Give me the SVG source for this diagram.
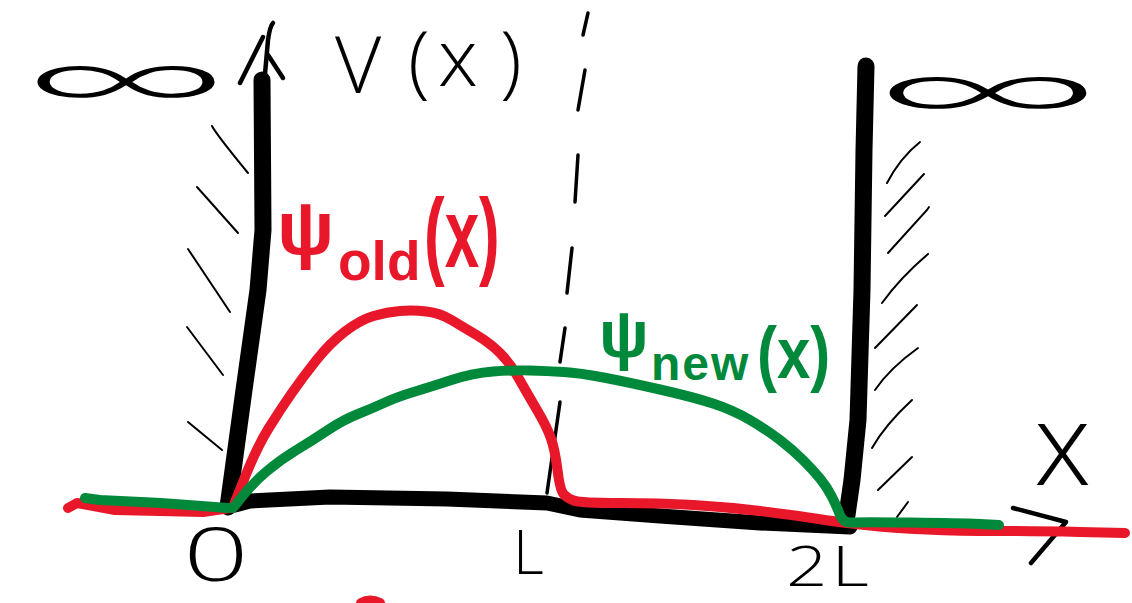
<svg xmlns="http://www.w3.org/2000/svg" width="1132" height="603" viewBox="0 0 1132 603">
<style>
.wall{fill:none;stroke:#000;stroke-width:17;stroke-linecap:round;stroke-linejoin:round}
.base{fill:none;stroke:#000;stroke-width:15;stroke-linecap:round;stroke-linejoin:round}
.hatch{fill:none;stroke:#000;stroke-width:2;stroke-linecap:round}
.dash{fill:none;stroke:#000;stroke-width:3.5;stroke-linecap:round}
.pen{fill:none;stroke:#000;stroke-width:4.5;stroke-linecap:round;stroke-linejoin:round}
.red{fill:none;stroke:#e8182a;stroke-width:10;stroke-linecap:round;stroke-linejoin:round}
.green{fill:none;stroke:#00893a;stroke-width:10;stroke-linecap:round;stroke-linejoin:round}
.lbl{font-family:"Open Sans","Liberation Sans",sans-serif;font-weight:300;fill:#000}
.rl{font-family:"Liberation Sans",Arial,sans-serif;font-weight:700;fill:#e8182a}
.gl{font-family:"Liberation Sans",Arial,sans-serif;font-weight:700;fill:#00893a}
.inf{font-family:"Open Sans","DejaVu Sans Mono",monospace;font-weight:300;fill:#000}
</style>
<rect width="1132" height="603" fill="#fff"/>

<g id="hatching">
<path class="hatch" d="M212,126 Q216,134 248,173"/>
<path class="hatch" d="M197,187 L238,233"/>
<path class="hatch" d="M188,249 L230,312"/>
<path class="hatch" d="M187,327 L223,375"/>
<path class="hatch" d="M188,422 L222,450"/>
<path class="hatch" d="M887,183 Q900,158 920,142"/>
<path class="hatch" d="M885,216 L924,174"/>
<path class="hatch" d="M888,253 L927,210 L929,207"/>
<path class="hatch" d="M882,303 Q900,278 928,254"/>
<path class="hatch" d="M875,348 L917,305"/>
<path class="hatch" d="M875,390 Q890,368 918,348"/>
<path class="hatch" d="M872,448 Q885,425 912,400"/>
<path class="hatch" d="M878,490 L912,457"/>
<path class="hatch" d="M897,517 L908,502"/>
</g>

<g id="dashed-line">
<path class="dash" d="M588,13 L583,35"/>
<path class="dash" d="M585,70 L578,110"/>
<path class="dash" d="M578,155 L575,202"/>
<path class="dash" d="M572,248 L567,293"/>
<path class="dash" d="M565,328 L560,362"/>
<path class="dash" d="M560,402 L547,493"/>
</g>

<g id="potential">
<path class="wall" d="M262,80 L263,230 L258,290 L244,390 L228,507"/>
<path class="wall" d="M866,66 L864,150 L862,290 L858,420 L852,480 L847,515"/>
<path class="base" d="M235,505 L250,501 L330,497 L447,499 L547,503 L580,510 L660,516 L760,523 L850,527"/>
</g>

<g id="axes">
<path class="pen" d="M265,74 L268,40 Q270,26 273,23"/>
<path class="pen" d="M240,83 L263,37"/>
<path class="pen" d="M268,55 L283,78"/>
<path class="pen" d="M1013,508 L1066,522 L1031,563"/>
</g>

<g id="psi-old">
<path class="red" d="M68,508 L77,503 L115,510 L203,512 L230,508"/>
<path class="red" d="M233,507 L245,477 Q257,447 268.5,428.5 Q280,410 291.5,393.5 Q303,377 316.5,360 Q330,343 345,331.5 Q360,320 373.5,316 Q387,312 400,311 Q413,310 426.5,311.5 Q440,313 451.5,320 Q463,327 476.5,335 Q490,343 500,353 Q510,363 518.5,378 Q527,393 537,410 Q547,427 551,438.5 Q555,450 557.5,470 Q560,490 563.5,494 Q567,498 573.5,500.5 Q580,503 620,503 Q660,503 693.5,505 Q727,507 760,511 Q793,515 815,518.5 Q837,522 865,525 Q893,528 926.5,529.5 Q960,531 997.5,531 Q1035,531 1080,532 L1125,533"/>
<path class="red" d="M361,603 Q370,598 380,603"/>
</g>

<g id="psi-new">
<path class="green" d="M85,498 L100,500 L161,503 L228,508"/>
<path class="green" d="M233,508 L243,495.5 Q253,483 266.5,471.5 Q280,460 296.5,450 Q313,440 328,430 Q343,420 358,414 Q373,408 385,402.5 Q397,397 413.5,392 Q430,387 451.5,380 Q473,373 493,371.5 Q513,370 530,370.5 Q547,371 563.5,372 Q580,373 603.5,377.5 Q627,382 660,389.5 Q693,397 713,403.5 Q733,410 750,420 Q767,430 780,440 Q793,450 803,460 Q813,470 820,478.5 Q827,487 832,497 Q837,507 840,515 Q843,523 851.5,522.5 Q860,522 910,522.5 Q960,523 980,524 L999,525"/>
</g>

<g id="labels">
<text class="inf" font-size="150" text-anchor="middle" transform="translate(126,119) scale(1.98,0.7)">∞</text>
<text class="inf" font-size="150" text-anchor="middle" transform="translate(988,130) scale(2.2,0.7)">∞</text>
<text class="lbl" font-size="80"><tspan x="335" y="93">V</tspan><tspan x="408" y="88">(</tspan><tspan x="438" y="86">x</tspan><tspan x="500" y="88">)</tspan></text>
<text class="rl" font-size="76" x="277" y="254">ψ</text>
<text class="rl" font-size="55" x="338" y="280">old</text>
<text class="rl" font-size="62" transform="translate(424,267) scale(1,1.6)">(x)</text>
<text class="gl" font-size="66" x="599" y="357">ψ</text>
<text class="gl" font-size="48" x="651" y="380" letter-spacing="2">new</text>
<text class="gl" font-size="60" transform="translate(757,378) scale(1,1.2)">(x)</text>
<text class="lbl" font-size="74" text-anchor="middle" transform="translate(216,581) scale(1.55,1)">0</text>
<text class="lbl" font-size="60" x="513" y="574">L</text>
<text class="lbl" font-size="56" transform="translate(786,586) scale(1.3,1)" letter-spacing="3">2L</text>
<text class="lbl" font-size="115" x="1034" y="485">x</text>
</g>
</svg>
